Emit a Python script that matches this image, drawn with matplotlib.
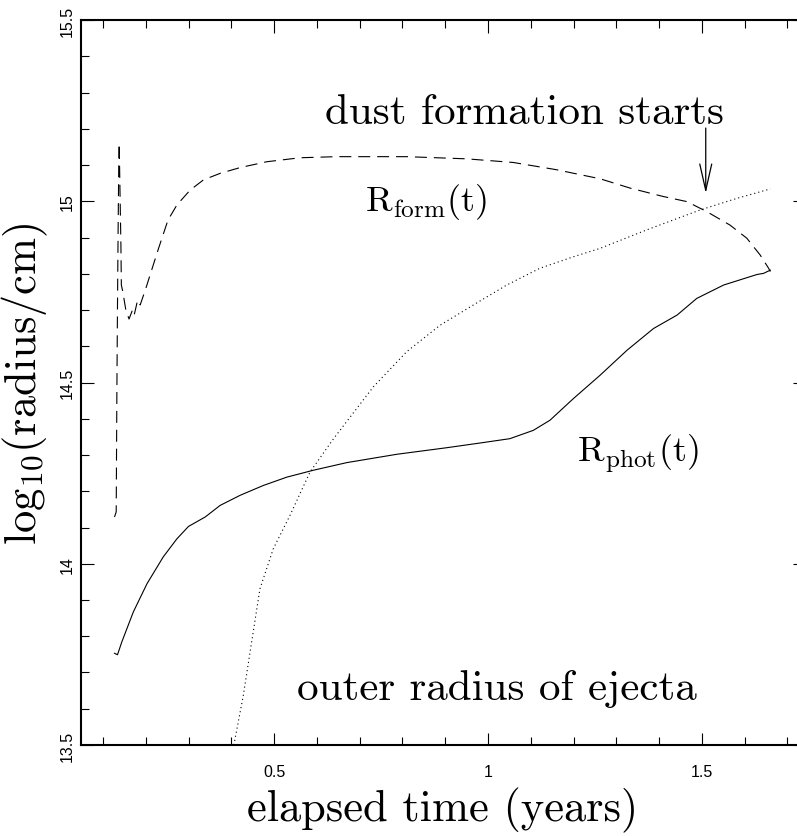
############################################
#import libraries
############################################

import numpy as np
import matplotlib
matplotlib.use('Agg')
import matplotlib.pyplot as plt
from matplotlib.ticker import MultipleLocator, FixedLocator, FuncFormatter

plt.rcParams['mathtext.fontset'] = 'cm'
plt.rcParams['lines.scale_dashes'] = False

############################################
#data (time in years, log10 radius in cm)
############################################

# R_form(t), dashed
t_form = [0.127, 0.131, 0.1325, 0.134, 0.1355, 0.137, 0.138, 0.140, 0.142, 0.143,
          0.1465, 0.1535, 0.161, 0.169, 0.173, 0.181, 0.187, 0.199, 0.210, 0.230,
          0.252, 0.273, 0.304, 0.335, 0.374, 0.421, 0.483, 0.561, 0.646, 0.810,
          0.950, 1.059, 1.160, 1.262, 1.333, 1.410, 1.465, 1.512, 1.566, 1.605,
          1.636, 1.656, 1.660]
r_form = [14.129, 14.143, 14.465, 14.714, 14.925, 15.109, 15.160, 15.017, 14.879, 14.769,
          14.750, 14.700, 14.675, 14.700, 14.686, 14.727, 14.714, 14.755, 14.796, 14.870,
          14.948, 14.990, 15.031, 15.059, 15.077, 15.093, 15.109, 15.120, 15.123, 15.123,
          15.117, 15.107, 15.087, 15.062, 15.036, 15.013, 14.999, 14.971, 14.934, 14.898,
          14.852, 14.815, 14.806]

# R_phot(t), solid
t_phot = [0.127, 0.134, 0.144, 0.171, 0.203, 0.241, 0.273, 0.300, 0.339, 0.374,
          0.421, 0.475, 0.530, 0.592, 0.670, 0.787, 0.903, 0.981, 1.051, 1.106,
          1.145, 1.200, 1.262, 1.325, 1.387, 1.442, 1.465, 1.488, 1.551, 1.629,
          1.644, 1.660]
r_phot = [13.753, 13.749, 13.784, 13.867, 13.945, 14.019, 14.069, 14.103, 14.129, 14.161,
          14.189, 14.216, 14.239, 14.258, 14.279, 14.302, 14.320, 14.333, 14.345, 14.368,
          14.396, 14.456, 14.520, 14.589, 14.649, 14.686, 14.709, 14.732, 14.769, 14.798,
          14.801, 14.810]

# outer radius of ejecta, dotted
t_out = [0.406, 0.428, 0.467, 0.498, 0.537, 0.584, 0.639, 0.732, 0.810, 0.888,
         0.966, 1.044, 1.121, 1.200, 1.262, 1.371, 1.496, 1.582, 1.660]
r_out = [13.500, 13.636, 13.931, 14.041, 14.133, 14.253, 14.345, 14.488, 14.585, 14.658,
         14.714, 14.769, 14.815, 14.847, 14.870, 14.921, 14.976, 15.008, 15.034]

# dust formation arrow
t_dust = 1.509
r_arrow_top, r_arrow_tip = 15.202, 15.022

x_major = [0.5, 1.0, 1.5]
y_major = [13.5, 14.0, 14.5, 15.0, 15.5]

############################################
#figure
############################################

W, H = 797, 837
fig = plt.figure(figsize=(W / 100, H / 100), dpi=100)
ax = fig.add_axes([80.7 / W, 91 / H, (805 - 80.7) / W, 725 / H])

ax.plot(t_form, r_form, color='black', lw=0.8, dashes=(8.6, 5.0))
ax.plot(t_phot, r_phot, color='black', lw=0.8)
ax.plot(t_out, r_out, color='black', lw=0.8, dashes=(0.8, 2.2))

ax.annotate('', xy=(t_dust, r_arrow_tip), xytext=(t_dust, r_arrow_top),
            arrowprops=dict(arrowstyle='->,head_length=1.9,head_width=0.43',
                            color='black', lw=0.9, shrinkA=0, shrinkB=0))

ax.set_xlim(0.048, 1.741)
ax.set_ylim(13.5, 15.5)

############################################
#ticks
############################################

ax.xaxis.set_major_locator(FixedLocator(x_major))
ax.xaxis.set_minor_locator(MultipleLocator(0.1))
ax.yaxis.set_major_locator(FixedLocator(y_major))
ax.yaxis.set_minor_locator(MultipleLocator(0.1))
fmt = FuncFormatter(lambda v, p: '%g' % v)
ax.xaxis.set_major_formatter(fmt)
ax.yaxis.set_major_formatter(fmt)

ax.tick_params(which='both', direction='in', top=True, right=True, width=0.8)
ax.tick_params(which='major', length=9)
ax.tick_params(which='minor', length=5.5)
ax.tick_params(axis='x', which='major', pad=14)
ax.tick_params(axis='y', which='major', pad=4)
for lab in ax.get_xticklabels() + ax.get_yticklabels():
    lab.set_family('Liberation Sans')
    lab.set_fontsize(11.5)
for lab in ax.get_yticklabels():
    lab.set_rotation(90)
    lab.set_va('center')

for s in ax.spines.values():
    s.set_linewidth(1.5)

############################################
#labels and texts
############################################

ax.set_xlabel('elapsed time (years)', family='cmr10', fontsize=32)
ax.xaxis.set_label_coords(0.5, -0.058)
ax.set_ylabel(r'$\mathrm{log}_{10}(\mathrm{radius/cm})$', fontsize=32)
ax.yaxis.set_label_coords(-0.042, 0.5)

ax.text(1.086, 15.215, 'dust formation starts', family='cmr10', fontsize=31,
        ha='center', va='baseline')
ax.text(1.02, 13.627, 'outer radius of ejecta', family='cmr10', fontsize=31,
        ha='center', va='baseline')
ax.text(0.855, 14.976, r'$\mathrm{R}_{\mathrm{form}}(\mathrm{t})$', fontsize=26,
        ha='center', va='baseline')
ax.text(1.35, 14.283, r'$\mathrm{R}_{\mathrm{phot}}(\mathrm{t})$', fontsize=26,
        ha='center', va='baseline')

fig.savefig('out.png', dpi=100)
